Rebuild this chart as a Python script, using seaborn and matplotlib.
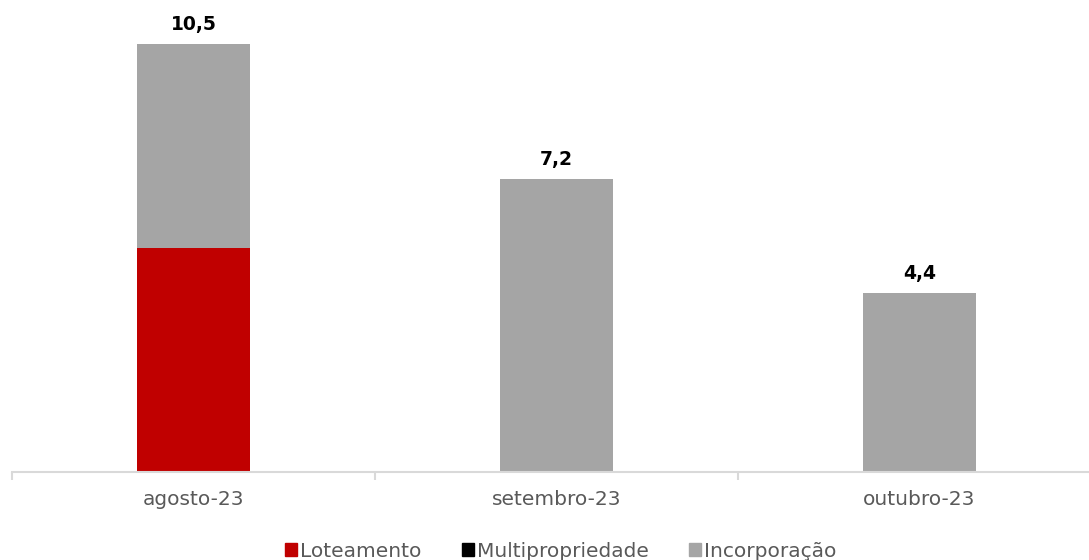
import numpy as np
import pandas as pd
import matplotlib
matplotlib.use('Agg')
import matplotlib.pyplot as plt
import seaborn as sns
from matplotlib.patches import Patch

# Values
meses = ['agosto-23', 'setembro-23', 'outubro-23']
loteamento = [5.5, 0.0, 0.0]
multipropriedade = [0.0, 0.0, 0.0]
incorporacao = [5.0, 7.2, 4.4]
totais = ['10,5', '7,2', '4,4']

sns.set_style('white')
plt.rcParams['font.family'] = ['DejaVu Sans']

cor_lot = '#C00000'
cor_multi = '#000000'
cor_inc = '#A5A5A5'
cor_txt = '#595959'

df = pd.DataFrame({'mes': meses, 'lot': loteamento, 'multi': multipropriedade, 'inc': incorporacao})
base_multi = np.array(loteamento)
base_inc = base_multi + np.array(multipropriedade)

fig = plt.figure(figsize=(10.89, 5.60), dpi=100)
ax = fig.add_axes([12 / 1089, 88 / 560, 1.0, 472 / 560])

kw = dict(width=0.314, saturation=1, linewidth=0, ax=ax)
sns.barplot(data=df, x='mes', y='lot', color=cor_lot, **kw)
sns.barplot(data=df, x='mes', y='multi', color=cor_multi, bottom=base_multi, **kw)
sns.barplot(data=df, x='mes', y='inc', color=cor_inc, bottom=base_inc, **kw)

ax.set_xlim(-0.5, 2.5)
ax.set_ylim(0, 11.58)

totals_num = base_inc + np.array(incorporacao)
for i, (v, t) in enumerate(zip(totals_num, totais)):
    ax.annotate(t, (i, v), xytext=(0, 7), textcoords='offset points', ha='center', va='bottom',
                fontsize=13.5, fontweight='bold', color='#000000')

for s in ['top', 'right', 'left']:
    ax.spines[s].set_visible(False)
ax.spines['bottom'].set_color('#D9D9D9')
ax.spines['bottom'].set_linewidth(1.5)
ax.set_yticks([])
ax.set_xlabel('')
ax.set_ylabel('')
ax.set_xticks([0, 1, 2])
ax.set_xticks([-0.5, 0.5, 1.5, 2.5], minor=True)
ax.tick_params(axis='x', which='major', length=0, pad=13, labelsize=14.5, labelcolor=cor_txt)
ax.tick_params(axis='x', which='minor', length=6, width=1.5, color='#D9D9D9', direction='out', bottom=True)

handles = [Patch(color=cor_lot, label='Loteamento'),
           Patch(color=cor_multi, label='Multipropriedade'),
           Patch(color=cor_inc, label='Incorporação')]
fig.legend(handles=handles, loc='center', bbox_to_anchor=(0.515, 0.016), ncol=3, frameon=False,
           fontsize=14.5, labelcolor=cor_txt, handlelength=0.6, handleheight=0.6, handletextpad=0.15,
           columnspacing=2.0)

fig.savefig('out.png', dpi=100)
